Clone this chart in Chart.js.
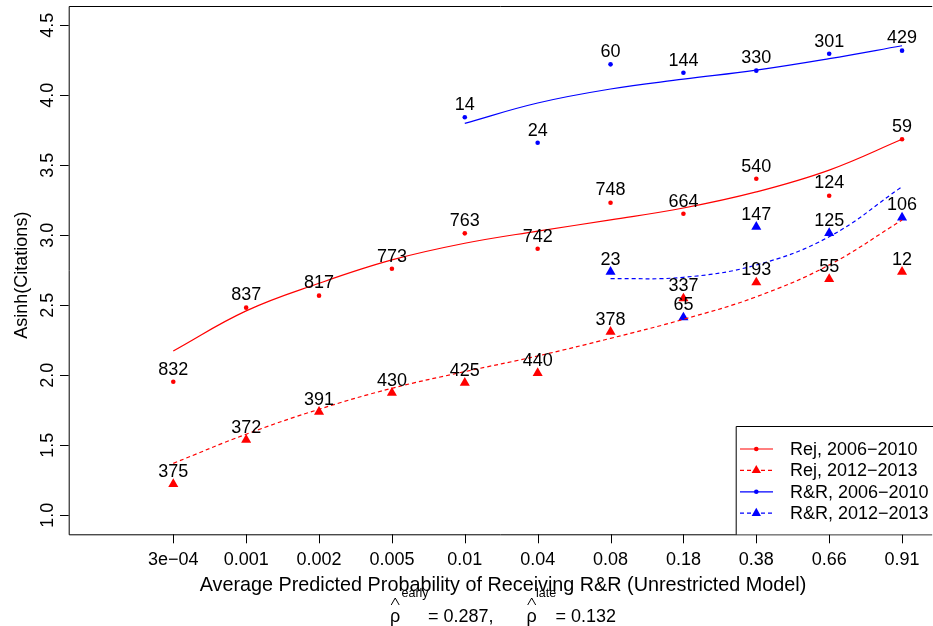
<!DOCTYPE html>
<html>
<head>
<meta charset="utf-8">
<script src="https://cdn.jsdelivr.net/npm/chart.js@4.4.1/dist/chart.umd.min.js"></script>
<style>
  html, body { margin: 0; padding: 0; background: #ffffff; }
  canvas { display: block; }
</style>
</head>
<body>
<canvas id="chart" width="933" height="626"></canvas>
<script>
// Bins of average predicted probability of receiving an R&R
const xTickLabels = ['3e\u221204', '0.001', '0.002', '0.005', '0.01', '0.04', '0.08', '0.18', '0.38', '0.66', '0.91'];
const binPos = [1, 2, 3, 4, 5, 6, 7, 8, 9, 10, 11];
const yTicks = [1.0, 1.5, 2.0, 2.5, 3.0, 3.5, 4.0, 4.5];

// Rejected papers, 2006-2010: bin means, paper counts and fitted curve
const rejEarlyMean = [1.954, 2.483, 2.569, 2.761, 3.014, 2.904, 3.233, 3.154, 3.404, 3.283, 3.686];
const rejEarlyN    = [832, 837, 817, 773, 763, 742, 748, 664, 540, 124, 59];
const rejEarlyFit  = [2.174, 2.460, 2.657, 2.824, 2.943, 3.030, 3.110, 3.195, 3.310, 3.466, 3.686];

// Rejected papers, 2012-2013
const rejLateMean = [1.223, 1.539, 1.739, 1.875, 1.946, 2.016, 2.311, 2.549, 2.663, 2.687, 2.739];
const rejLateN    = [375, 372, 391, 430, 425, 440, 378, 337, 193, 55, 12];
const rejLateFit  = [1.371, 1.579, 1.757, 1.907, 2.026, 2.138, 2.264, 2.400, 2.561, 2.788, 3.109];

// R&R papers, 2006-2010 (bins 0.01 to 0.91)
const rrEarlyPos  = [5, 6, 7, 8, 9, 10, 11];
const rrEarlyMean = [3.843, 3.661, 4.221, 4.161, 4.176, 4.297, 4.319];
const rrEarlyN    = [14, 24, 60, 144, 330, 301, 429];
const rrEarlyFit  = [3.800, 3.945, 4.045, 4.115, 4.180, 4.262, 4.354];

// R&R papers, 2012-2013 (bins 0.08 to 0.91)
const rrLatePos  = [7, 8, 9, 10, 11];
const rrLateMean = [2.739, 2.413, 3.061, 3.016, 3.127];
const rrLateN    = [23, 65, 147, 125, 106];
const rrLateFit  = [2.690, 2.700, 2.788, 2.990, 3.347];

const seriesNames = ['Rej, 2006\u22122010', 'Rej, 2012\u22122013', 'R&R, 2006\u22122010', 'R&R, 2012\u22122013'];

const RED = '#ff0000';
const BLUE = '#0000ff';
const FONT = '"Liberation Sans", Arial, Helvetica, sans-serif';
const DASH = [4, 3];

function pairs(xs, ys) { return xs.map((x, i) => ({ x: x, y: ys[i] })); }

function fitLine(xs, ys, color, dashed) {
  return {
    data: pairs(xs, ys), showLine: true, borderColor: color, borderWidth: 1.2,
    borderDash: dashed ? DASH : [], pointRadius: 0, pointHoverRadius: 0,
    tension: 0.4, fill: false, isMarks: false
  };
}
function marks(xs, ys, counts, color, style) {
  const tri = style === 'triangle';
  return {
    data: pairs(xs, ys), showLine: false, pointStyle: style,
    pointRadius: tri ? 5.8 : 2.3, pointHoverRadius: tri ? 5.8 : 2.3,
    pointBackgroundColor: color, pointBorderColor: color, pointBorderWidth: 0,
    counts: counts, isMarks: true
  };
}

// Axes, box, point counts, legend and the subtitle, drawn in base-graphics style
const decorPlugin = {
  id: 'decor',
  afterDatasetsDraw(chart) {
    const ctx = chart.ctx;
    const area = chart.chartArea;
    const xs = chart.scales.x, ys = chart.scales.y;
    const plotCentre = 503;
    ctx.save();

    // counts above each mark
    ctx.fillStyle = '#000';
    ctx.font = '18px ' + FONT;
    ctx.textAlign = 'center';
    ctx.textBaseline = 'alphabetic';
    chart.data.datasets.forEach((ds, di) => {
      if (!ds.isMarks) return;
      chart.getDatasetMeta(di).data.forEach((pt, i) => {
        ctx.fillText(String(ds.counts[i]), pt.x, pt.y - 7.2);
      });
    });

    // plot box
    ctx.strokeStyle = '#000';
    ctx.lineWidth = 1;
    ctx.beginPath();
    ctx.moveTo(area.right + 5, area.top + 0.5);
    ctx.lineTo(area.left + 0.5, area.top + 0.5);
    ctx.lineTo(area.left + 0.5, area.bottom + 0.5);
    ctx.lineTo(area.right + 5, area.bottom + 0.5);
    ctx.stroke();

    // x axis ticks and labels
    ctx.beginPath();
    binPos.forEach((v) => {
      const px = Math.round(xs.getPixelForValue(v)) + 0.5;
      ctx.moveTo(px, area.bottom);
      ctx.lineTo(px, area.bottom + 9);
    });
    ctx.stroke();
    ctx.font = '18px ' + FONT;
    ctx.textAlign = 'center';
    binPos.forEach((v, i) => {
      ctx.fillText(xTickLabels[i], xs.getPixelForValue(v), 565);
    });

    // y axis ticks and rotated labels
    ctx.beginPath();
    yTicks.forEach((v) => {
      const py = Math.round(ys.getPixelForValue(v)) + 0.5;
      ctx.moveTo(area.left - 8.7, py);
      ctx.lineTo(area.left, py);
    });
    ctx.stroke();
    yTicks.forEach((v) => {
      ctx.save();
      ctx.translate(52.5, ys.getPixelForValue(v));
      ctx.rotate(-Math.PI / 2);
      ctx.fillText(v.toFixed(1), 0, 0);
      ctx.restore();
    });

    // axis titles
    ctx.save();
    ctx.translate(27, (area.top + area.bottom) / 2 + 5);
    ctx.rotate(-Math.PI / 2);
    ctx.fillText('Asinh(Citations)', 0, 0);
    ctx.restore();
    ctx.font = '19.8px ' + FONT;
    ctx.fillText('Average Predicted Probability of Receiving R&R (Unrestricted Model)', plotCentre, 590.5);

    // subtitle with the two rho-hat values
    ctx.textAlign = 'left';
    const base = 621.7;
    const supBase = 597;
    const hat = (x) => {
      ctx.beginPath();
      ctx.moveTo(x - 4, 605);
      ctx.lineTo(x, 598);
      ctx.lineTo(x + 4, 605);
      ctx.stroke();
    };
    ctx.font = '18px ' + FONT;
    ctx.fillText('\u03c1', 390, base);
    hat(395.2);
    ctx.font = '12.5px ' + FONT;
    ctx.fillText('early', 401.5, supBase);
    ctx.font = '18px ' + FONT;
    ctx.fillText('= 0.287,', 428, base);
    ctx.fillText('\u03c1', 526.5, base);
    hat(531.7);
    ctx.font = '12.5px ' + FONT;
    ctx.fillText('late', 536, supBase);
    ctx.font = '18px ' + FONT;
    ctx.fillText('= 0.132', 555.5, base);

    // legend
    const lx = 735.7, ly = 426, rowH = 21.4;
    ctx.fillStyle = '#fff';
    ctx.fillRect(lx, ly, 933 - lx + 5, area.bottom - ly);
    ctx.strokeStyle = '#000';
    ctx.lineWidth = 1;
    ctx.beginPath();
    ctx.moveTo(940, ly + 0.5);
    ctx.lineTo(lx + 0.5, ly + 0.5);
    ctx.lineTo(lx + 0.5, area.bottom + 0.5);
    ctx.stroke();
    const styles = [
      { c: RED, dash: false, tri: false },
      { c: RED, dash: true, tri: true },
      { c: BLUE, dash: false, tri: false },
      { c: BLUE, dash: true, tri: true }
    ];
    styles.forEach((s, i) => {
      const y = ly + 23 + i * rowH;
      ctx.strokeStyle = s.c;
      ctx.fillStyle = s.c;
      ctx.lineWidth = 1.2;
      ctx.setLineDash(s.dash ? DASH : []);
      ctx.beginPath();
      ctx.moveTo(740, y);
      ctx.lineTo(773, y);
      ctx.stroke();
      ctx.setLineDash([]);
      ctx.beginPath();
      if (s.tri) {
        const r = 5.4;
        ctx.moveTo(756.3, y - r);
        ctx.lineTo(756.3 + r * 0.866, y + r / 2);
        ctx.lineTo(756.3 - r * 0.866, y + r / 2);
        ctx.closePath();
      } else {
        ctx.arc(756.3, y, 2.3, 0, Math.PI * 2);
      }
      ctx.fill();
      ctx.fillStyle = '#000';
      ctx.font = '18px ' + FONT;
      ctx.textBaseline = 'middle';
      ctx.fillText(seriesNames[i], 790, y + 1);
      ctx.textBaseline = 'alphabetic';
    });
    ctx.restore();
  }
};

new Chart(document.getElementById('chart'), {
  type: 'scatter',
  data: {
    datasets: [
      fitLine(binPos, rejEarlyFit, RED, false),
      fitLine(binPos, rejLateFit, RED, true),
      fitLine(rrEarlyPos, rrEarlyFit, BLUE, false),
      fitLine(rrLatePos, rrLateFit, BLUE, true),
      marks(binPos, rejEarlyMean, rejEarlyN, RED, 'circle'),
      marks(binPos, rejLateMean, rejLateN, RED, 'triangle'),
      marks(rrEarlyPos, rrEarlyMean, rrEarlyN, BLUE, 'circle'),
      marks(rrLatePos, rrLateMean, rrLateN, BLUE, 'triangle')
    ]
  },
  options: {
    responsive: false,
    animation: false,
    events: [],
    layout: { padding: { top: 6, left: 0, right: 0, bottom: 0 } },
    plugins: { legend: { display: false }, tooltip: { enabled: false } },
    scales: {
      x: {
        type: 'linear', min: -0.435, max: 11.345,
        ticks: { display: false }, grid: { display: false }, border: { display: false },
        afterFit(s) { s.height = 91.7; }
      },
      y: {
        type: 'linear', min: 0.864, max: 4.638,
        ticks: { display: false }, grid: { display: false }, border: { display: false },
        afterFit(s) { s.width = 68.7; }
      }
    }
  },
  plugins: [decorPlugin]
});
</script>
</body>
</html>
